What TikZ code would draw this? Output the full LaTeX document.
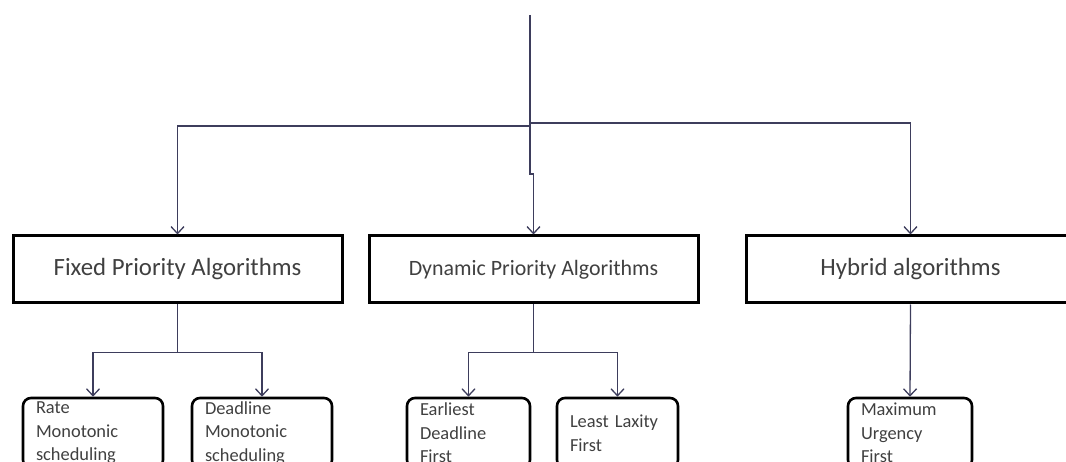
\documentclass[tikz,border=0pt]{standalone}
\usepackage{fontspec}
\setmainfont{Carlito}
\usetikzlibrary{arrows.meta, positioning, calc}
\definecolor{wire}{HTML}{3D3D5C}
\definecolor{inkgray}{HTML}{404040}

\begin{document}
\begin{tikzpicture}[x=1pt, y=-1pt,
    family/.style={draw=black, line width=3pt, fill=white,
                   minimum width=329pt, minimum height=67pt, inner sep=0pt,
                   text=inkgray, font=\fontsize{24.8}{28}\selectfont},
    algo/.style={draw=black, line width=2.6pt, rounded corners=8pt, fill=white,
                 minimum height=70pt, inner xsep=13pt, inner ysep=0pt,
                 align=left, text=inkgray, font=\fontsize{18.4}{23.5}\selectfont},
    link/.style={wire, line width=1.3pt},
    arr/.style={link, -{Straight Barb[length=7pt, width=13pt]}}]
  \useasboundingbox (0,0) rectangle (1066,462);
  \clip (0,0) rectangle (1066,462);

  % the three families of algorithms
  \node[family] (fixed) at (177.5,269.5) {Fixed Priority Algorithms};
  \node[family, font=\fontsize{21.9}{26}\selectfont] (dyn) at (533.5,269.5)
    {Dynamic Priority Algorithms};
  \node[family] (hyb)   at (910.5,269.5) {Hybrid algorithms};

  % single algorithms, cut off by the lower edge
  \foreach \who/\cx/\w/\txt in {rate/93/140/{Rate\\Monotonic\\scheduling},
      dline/262/140/{Deadline\\Monotonic\\scheduling},
      edf/468.5/123/{Earliest\\Deadline\\First},
      llf/617.5/121/{Least Laxity\\First},
      mux/910/124/{Maximum\\Urgency\\First}}{%
    \pgfmathsetmacro{\tw}{\w-26}
    \node[algo, text width=\tw pt] (\who) at (\cx,433) {\txt};}

  % root line and its split
  \coordinate (root) at (530,15);
  \coordinate (splitl) at (530,126);
  \coordinate (splitr) at (530,123);
  \draw[link] (root) -- (splitl);
  \draw[arr] (splitl) -| (fixed.north);
  \draw[arr] (splitr) -| (hyb.north);
  \draw[arr] (splitl) -- ++(0,48) -| (dyn.north);

  % branches below each family
  \draw[link] (fixed.south) -- ++(0,48) coordinate (fj);
  \draw[arr] (fj) -| (rate.north);
  \draw[arr] (fj) -| (dline.north);
  \draw[link] (dyn.south) -- ++(0,48) coordinate (dj);
  \draw[arr] (dj) -| (edf.north);
  \draw[arr] (dj) -| (llf.north);
  \draw[arr] (hyb.south) -- (mux.north);
\end{tikzpicture}
\end{document}
